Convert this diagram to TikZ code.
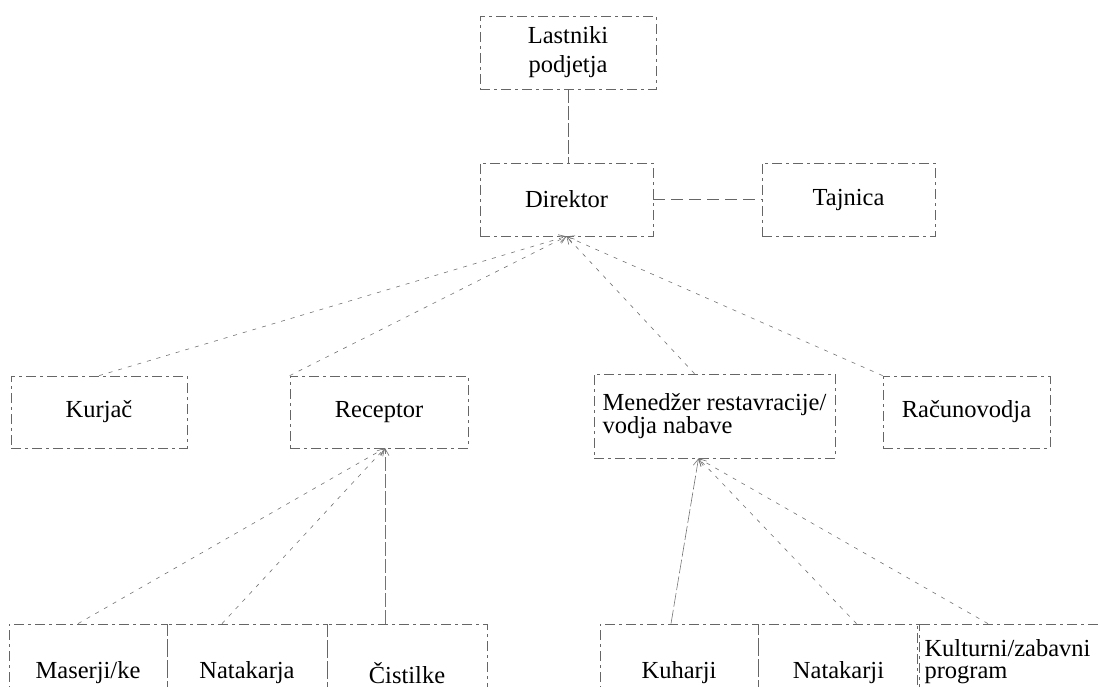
\documentclass[tikz,border=0pt]{standalone}
\usepackage{fontspec}
\setmainfont{Liberation Serif}
\usetikzlibrary{arrows.meta}
\begin{document}
\begin{tikzpicture}
	[x=1pt,y=-1pt,
	every node/.style={font=\fontsize{24.5}{23}\selectfont},
	box/.style={draw=black!60,line width=0.7pt,dash pattern=on 10pt off 4pt on 3pt off 4pt,inner sep=0pt,align=center},
	link/.style={draw=black!55,line width=0.6pt,dash pattern=on 4pt off 6pt,-{Straight Barb[length=7pt,width=8pt]}},
	stemlink/.style={link,dash pattern=on 14pt off 3pt},
	stem/.style={draw=black!60,line width=0.6pt,dash pattern=on 14pt off 3pt},]
	\useasboundingbox (0,0) rectangle (1098,687);
	\clip (0,0) rectangle (1098,687);
	\node[box,minimum width=176pt,minimum height=73pt,font=\fontsize{24.5}{29}\selectfont] (las) at (568,52.5) {Lastniki\\podjetja};
	\node[box,minimum width=173pt,minimum height=73pt] (dir) at (566.5,199.5) {Direktor};
	\node[box,minimum width=173pt,minimum height=73pt] (taj) at (848.5,199.5) {Tajnica};
	\node[box,minimum width=176pt,minimum height=72pt] (kur) at (99,412) {Kurjač};
	\node[box,minimum width=178pt,minimum height=72pt] (rec) at (379,412) {Receptor};
	\node[box,minimum width=241pt,minimum height=84pt,align=left] (men) at (714.5,416) {Menedžer restavracije/\\vodja nabave};
	\node[box,minimum width=167pt,minimum height=72pt] (rac) at (966.5,412) {Računovodja};
	\node[box,minimum width=158pt,minimum height=98pt] (mas) at (88,673) {Maserji/ke};
	\node[box,minimum width=160pt,minimum height=98pt] (nat) at (247,673) {Natakarja};
	\node[box,minimum width=160pt,minimum height=98pt] (cis) at (407,673) {Čistilke};
	\node[box,minimum width=158pt,minimum height=98pt] (kuh) at (679,673) {Kuharji};
	\node[box,minimum width=161pt,minimum height=98pt] (nak) at (838.5,673) {Natakarji};
	\node[box,minimum height=75pt,text width=175pt,inner xsep=7pt,align=left,font=\fontsize{24.5}{22.5}\selectfont] (kul) at (1012,661.5) {Kulturni/zabavni\\program};
	\coordinate (recb) at (385,448);
	\coordinate (menb) at ([xshift=-16pt]men.south);
	\draw[stem] (las.south) -- (las.south |- dir.north);
	\draw[stem,dash pattern=on 12pt off 6pt] (dir.east) -- (taj.west);
	\draw[link] (kur.north) -- (dir.south);
	\draw[link] (rec.north west) -- (dir.south);
	\draw[link] ([xshift=-20pt]men.north) -- (dir.south);
	\draw[link] (rac.north west) -- (dir.south);
	\draw[link] ([xshift=-10pt]mas.north) -- (recb);
	\draw[link] ([xshift=-25pt]nat.north) -- (recb);
	\draw[stemlink] (recb |- cis.north) -- (recb);
	\draw[stemlink] ([xshift=-8pt]kuh.north) -- (menb);
	\draw[link] ([xshift=18pt]nak.north) -- (menb);
	\draw[link] ([xshift=-24pt]kul.north) -- (menb);
\end{tikzpicture}
\end{document}
